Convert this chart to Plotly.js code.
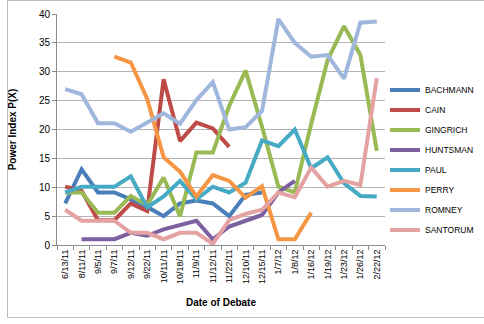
<!DOCTYPE html>
<html>
<head>
<meta charset="utf-8">
<script src="https://cdn.plot.ly/plotly-3.0.1.min.js"></script>
<style>
html,body{margin:0;padding:0;background:#fff;}
#wrap{position:relative;width:484px;height:324px;overflow:hidden;}
#frame{position:absolute;left:7px;top:0;width:600px;height:318px;border:1px solid #bdbdbd;box-sizing:border-box;pointer-events:none;}
#chart{position:absolute;left:0;top:0;width:484px;height:324px;}
</style>
</head>
<body>
<div id="wrap"><div id="chart"></div><div id="frame"></div></div>
<script>
const dates = ["6/13/11","8/11/11","9/5/11","9/7/11","9/12/11","9/22/11","10/11/11","10/18/11","11/9/11","11/12/11","11/22/11","12/10/11","12/15/11","1/7/12","1/8/12","1/16/12","1/19/12","1/23/12","1/26/12","2/22/12"];
const bachmann = [7.2,13.1,9.1,9.1,7.9,6.6,5.0,7.2,7.7,7.2,5.0,8.7,9.1,null,null,null,null,null,null,null];
const cain = [10.1,9.4,4.3,4.3,7.2,5.9,28.7,18.0,21.2,20.2,17.0,null,null,null,null,null,null,null,null,null];
const gingrich = [9.1,9.1,5.6,5.6,8.5,6.9,11.7,5.0,16.0,16.0,24.1,30.2,20.5,10.1,9.1,21.0,32.0,37.9,32.9,16.3];
const huntsman = [null,1.0,1.0,1.0,2.1,1.6,2.7,3.5,4.2,1.0,3.2,4.2,5.2,9.1,11.1,null,null,null,null,null];
const paul = [9.1,10.1,10.1,10.1,11.9,6.5,8.4,11.1,7.9,10.1,9.1,10.8,18.1,17.1,20.0,13.3,15.2,10.7,8.5,8.4];
const perry = [null,null,null,32.6,31.6,25.3,15.2,12.7,8.4,12.1,11.1,8.2,10.2,1.0,1.0,5.6,null,null,null,null];
const romney = [27.0,26.1,21.1,21.1,19.6,21.2,22.8,21.0,25.1,28.2,20.0,20.4,23.2,39.1,35.0,32.6,32.9,28.8,38.5,38.7];
const santorum = [6.1,4.2,4.2,4.2,2.1,2.1,1.0,2.1,2.1,0.2,4.3,5.4,6.1,9.1,8.3,13.4,10.1,11.1,10.4,28.9];

const names = ["BACHMANN","CAIN","GINGRICH","HUNTSMAN","PAUL","PERRY","ROMNEY","SANTORUM"];
const series = [bachmann,cain,gingrich,huntsman,paul,perry,romney,santorum];
const colors = ["#4A7EBB","#BE4B48","#98B954","#7D60A0","#46AAC5","#F59645","#A0B7DD","#E4A3A2"];

const traces = series.map((s,i)=>({
  type:"scatter", mode:"lines", x:dates, y:s, name:names[i],
  legendgroup:names[i],
  line:{color:colors[i], width:4, shape:"linear"},
  connectgaps:false, hoverinfo:"skip"
}));

const font = "Liberation Sans, Arial, sans-serif";
const layout = {
  width:484, height:324,
  margin:{l:57, r:99, t:14, b:79, autoexpand:false},
  paper_bgcolor:"rgba(0,0,0,0)", plot_bgcolor:"#fff",
  font:{family:font, size:10, color:"#000"},
  showlegend:true,
  legend:{x:1.0, y:0.734, xanchor:"left", yanchor:"top", font:{size:8.5, color:"#000"},
          tracegroupgap:1, itemwidth:30, bgcolor:"rgba(0,0,0,0)"},
  xaxis:{type:"category", range:[-0.5,19.5], tickangle:-90, tickfont:{size:9},
         showline:true, linecolor:"#8c8c8c", linewidth:1, ticks:"outside", ticklen:4,
         tickcolor:"#8c8c8c", tickson:"boundaries", showgrid:false,
         title:{text:"Date of Debate", font:{size:10, weight:"bold"}, standoff:16}},
  yaxis:{range:[0,40], dtick:5, showline:true, linecolor:"#8c8c8c", linewidth:1,
         ticks:"outside", ticklen:4, tickcolor:"#8c8c8c", gridcolor:"#b3b3b3",
         gridwidth:1, zeroline:false, tickfont:{size:10},
         title:{text:"Power Index P(X)", font:{size:10, weight:"bold"}, standoff:20}}
};
Plotly.newPlot("chart", traces, layout, {staticPlot:true, displayModeBar:false});
</script>
</body>
</html>
